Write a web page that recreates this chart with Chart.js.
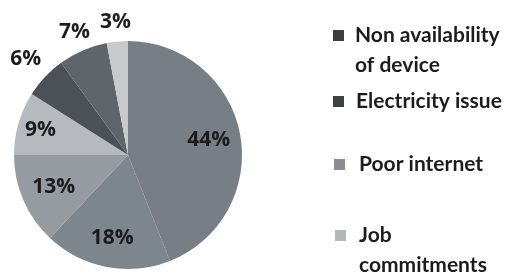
<!DOCTYPE html>
<html>
<head>
<meta charset="utf-8">
<script src="https://cdn.jsdelivr.net/npm/chart.js@4/dist/chart.umd.min.js"></script>
<style>
html,body{margin:0;padding:0;background:#fff;}
#wrap{width:511px;height:276px;position:relative;}
</style>
</head>
<body>
<div id="wrap"><canvas id="c" width="511" height="276"></canvas></div>
<script>
// Categories (only the first four are visible in the reference legend)
const categories = ["Non availability of device", "Electricity issue", "Poor internet", "Job commitments", "Other 1", "Other 2", "Other 3"];
const values = [44, 18, 13, 9, 6, 7, 3];
const valueLabels = ["44%", "18%", "13%", "9%", "6%", "7%", "3%"];
const sliceColors = ["#787e86", "#7d858d", "#959ba1", "#b6babe", "#4b5157", "#5f6569", "#c6cacd"];
const legendLines = [["Non availability", "of device"], ["Electricity issue"], ["Poor internet"], ["Job", "commitments"]];
const legendSwatch = ["#3c3e40", "#3f4143", "#8a8e90", "#b4b6b8"];

const labelRadius = [0.72, 0.74, 0.71, 0.8, 1.23, 1.18, 1.17];

const labelPlugin = {
  id: 'sliceLabels',
  afterDatasetsDraw(chart) {
    const ctx = chart.ctx;
    const meta = chart.getDatasetMeta(0);
    ctx.save();
    ctx.font = 'bold 21px "Open Sans", sans-serif';
    ctx.fillStyle = '#1c1c1e';
    ctx.textAlign = 'center';
    ctx.textBaseline = 'middle';
    meta.data.forEach((arc, i) => {
      const p = arc.getProps(['x','y','startAngle','endAngle','outerRadius'], true);
      const a = (p.startAngle + p.endAngle) / 2;
      const r = p.outerRadius * labelRadius[i];
      ctx.fillText(valueLabels[i], p.x + Math.cos(a) * r, p.y + Math.sin(a) * r);
    });
    ctx.restore();
  }
};

const legendPlugin = {
  id: 'sideLegend',
  afterDraw(chart) {
    const ctx = chart.ctx;
    const ys = [35, 101, 164, 235];
    const sx = [333, 333, 334, 335];
    const tx = [355, 356, 359, 359];
    ctx.save();
    ctx.font = 'bold 21px Lato, sans-serif';
    ctx.textBaseline = 'middle';
    ctx.textAlign = 'left';
    legendLines.forEach((lines, i) => {
      ctx.fillStyle = legendSwatch[i];
      ctx.fillRect(sx[i], ys[i] - 5, 11, 11);
      ctx.fillStyle = '#1c1c1e';
      lines.forEach((t, j) => {
        ctx.fillText(t, tx[i], ys[i] + j * 30);
      });
    });
    ctx.restore();
  }
};

new Chart(document.getElementById('c'), {
  type: 'pie',
  data: {
    labels: categories,
    datasets: [{
      data: values,
      backgroundColor: sliceColors,
      borderWidth: 0
    }]
  },
  options: {
    responsive: false,
    animation: false,
    layout: { padding: { left: 14, top: 41, right: 269, bottom: 7 } },
    plugins: { legend: { display: false }, tooltip: { enabled: false } }
  },
  plugins: [labelPlugin, legendPlugin]
});
</script>
</body>
</html>
